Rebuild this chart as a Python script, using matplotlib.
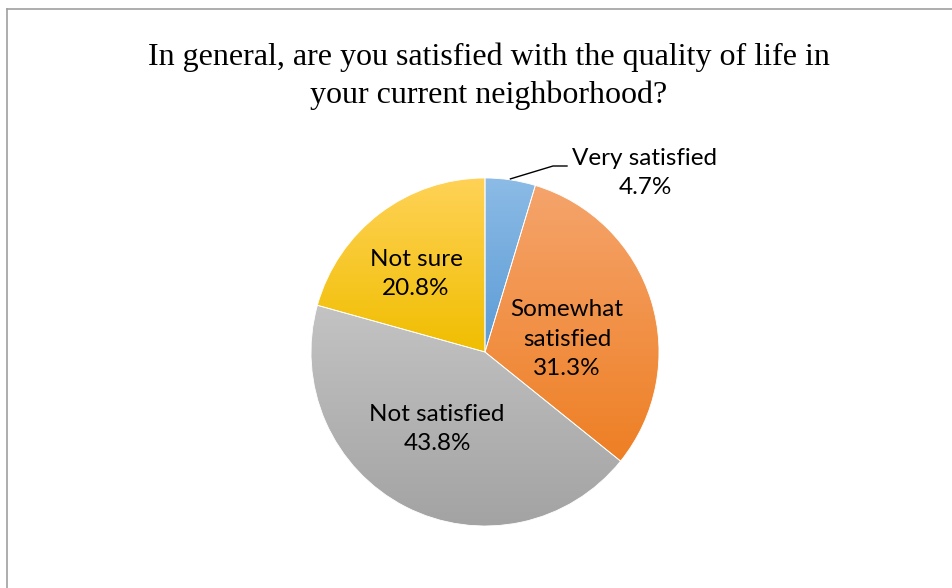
import numpy as np
import matplotlib.pyplot as plt

# Data
labels = ["Very satisfied", "Somewhat\nsatisfied", "Not satisfied", "Not sure"]
values = [4.7, 31.3, 43.8, 20.8]
top_colors = ["#8cbbe6", "#f5a46c", "#c3c3c3", "#ffd257"]
bottom_colors = ["#5b9bd5", "#ee7f24", "#a3a3a3", "#f0be00"]
# label centres in pixels (x, y from top)
label_pos = [(645, 173), (567, 339), (437, 429), (416, 274)]

W, H = 953, 588
fig = plt.figure(figsize=(W / 100, H / 100), dpi=100)
ax = fig.add_axes([0, 0, 1, 1])

cx, cy, r = 485, H - 352, 174
wedges, _ = ax.pie(values, startangle=90, counterclock=False, center=(cx, cy), radius=r,
                   wedgeprops=dict(edgecolor="white", linewidth=0.6))
ax.set_aspect("equal")
ax.axis("off")

# gradient fill, clipped to each wedge
for w, c0, c1 in zip(wedges, top_colors, bottom_colors):
    bb = w.get_path().get_extents()
    t = np.linspace(0, 1, 256)[:, None, None]
    a = np.array(plt.matplotlib.colors.to_rgb(c0))
    b = np.array(plt.matplotlib.colors.to_rgb(c1))
    grad = a[None, None, :] * (1 - t) + b[None, None, :] * t
    im = ax.imshow(grad, extent=[bb.x0, bb.x1, bb.y0, bb.y1], origin="upper",
                   aspect="auto", interpolation="bilinear", zorder=w.get_zorder())
    im.set_clip_path(w)
    w.set_facecolor("none")
    w.set_zorder(im.get_zorder() + 0.1)
ax.set_xlim(0, W)
ax.set_ylim(0, H)

font = "Lato"
fs = 17.5
for w, lab, v, (px, py) in zip(wedges, labels, values, label_pos):
    txt = f"{lab}\n{v:.1f}%"
    if lab == "Very satisfied":
        # outside label with leader line
        ang = np.deg2rad((w.theta1 + w.theta2) / 2)
        ex, ey = cx + r * np.cos(ang), cy + r * np.sin(ang)
        ax.plot([ex, 553, 567], [ey + 1, H - 166, H - 166], color="black", lw=1, zorder=5)
    ax.text(px, H - py, txt, ha="center", va="center", fontsize=fs, family=font,
            linespacing=1.5, zorder=6)

fig.text(489 / W, 1 - 76.5 / H, "In general, are you satisfied with the quality of life in\nyour current neighborhood?",
         ha="center", va="center", fontsize=23, family="Liberation Serif", linespacing=1.4)

# chart border (top and left only visible)
fig.add_artist(plt.Line2D([6.5 / W, 6.5 / W], [0, 1 - 8.5 / H], color="#a0a0a0", lw=1.2))
fig.add_artist(plt.Line2D([6.5 / W, 1], [1 - 8.5 / H, 1 - 8.5 / H], color="#a0a0a0", lw=1.2))

fig.savefig("out.png", dpi=100, facecolor="white")
